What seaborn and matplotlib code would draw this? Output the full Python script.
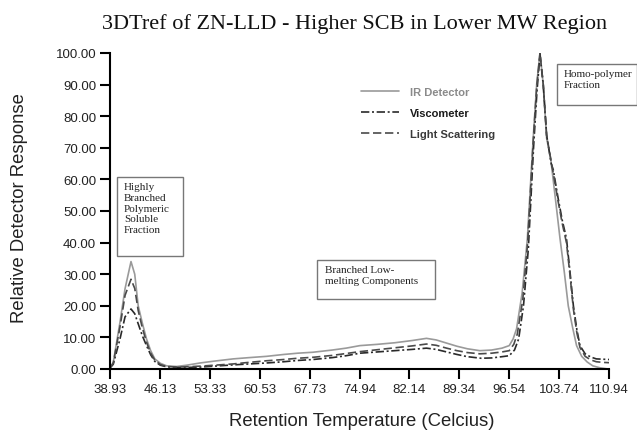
import matplotlib
matplotlib.use("Agg")
import matplotlib.pyplot as plt
import seaborn as sns
import pandas as pd
from matplotlib.patches import Rectangle

# ---- data ----
ir_x = [38.93, 39.4, 40.37, 41.1, 41.96, 42.5, 43.0, 43.6, 44.2, 44.8, 45.4, 46.2, 47.1, 48.55, 50.0,
        51.9, 54.0, 56.7, 59.0, 61.5, 64.0, 66.0, 68.2, 71.0, 73.0, 75.0, 77.5, 80.0, 82.5, 84.6,
        86.0, 87.5, 89.0, 90.5, 92.3, 94.0, 95.5, 96.54, 97.1, 97.6, 98.4, 99.15, 100.0, 100.5,
        100.98, 101.45, 101.94, 102.52, 103.2, 103.87, 104.5, 105.06, 105.7, 106.26, 107.0, 107.8,
        108.6, 109.6, 110.8]
ir_y = [0.5, 2.1, 14.8, 25.4, 34.0, 30.0, 20.0, 14.5, 9.5, 5.8, 3.2, 1.8, 1.0, 0.8, 1.2,
        1.9, 2.5, 3.2, 3.6, 4.0, 4.6, 5.0, 5.3, 6.0, 6.6, 7.4, 7.8, 8.3, 9.0, 9.7,
        9.2, 8.2, 7.2, 6.4, 5.8, 6.0, 6.6, 7.4, 9.5, 12.7, 24.0, 41.0, 73.0, 90.0,
        100.0, 90.0, 73.0, 66.7, 54.0, 41.3, 30.5, 20.0, 13.0, 7.4, 4.0, 2.2,
        1.0, 0.4, 0.0]

visc_x = [38.93, 39.4, 40.37, 41.1, 41.96, 42.5, 43.0, 43.6, 44.2, 44.8, 45.4, 46.2, 47.1, 48.55, 50.0,
          51.9, 54.0, 56.7, 59.0, 61.5, 64.0, 66.0, 68.2, 71.0, 73.0, 75.0, 77.5, 80.0, 82.5, 84.6,
          86.0, 87.5, 89.0, 90.5, 92.5, 94.0, 95.5, 96.54, 97.3, 97.9, 98.6, 99.3, 100.05, 100.55,
          100.98, 101.45, 101.94, 102.6, 102.9, 103.6, 104.2, 104.8, 105.3, 105.8, 106.3, 106.75, 107.5,
          108.3, 109.1, 110.0, 110.94]
visc_y = [0.3, 1.5, 9.5, 16.5, 19.0, 17.5, 14.3, 10.5, 7.4, 4.5, 2.4, 1.2, 0.7, 0.5, 0.5,
          0.6, 0.9, 1.3, 1.6, 1.9, 2.3, 2.7, 3.0, 3.6, 4.2, 5.0, 5.4, 5.8, 6.2, 6.6,
          6.2, 5.4, 4.6, 3.9, 3.4, 3.5, 3.9, 4.2, 6.0, 9.5, 20.0, 38.0, 70.0, 88.0,
          99.5, 90.0, 74.0, 65.0, 63.0, 54.0, 47.0, 41.3, 31.0, 20.0, 12.5, 7.4, 4.8,
          3.8, 3.2, 3.1, 3.0]

ls_x = [38.93, 39.4, 40.37, 41.1, 41.96, 42.5, 43.0, 43.6, 44.2, 44.8, 45.4, 46.2, 47.1, 48.55, 50.0,
        51.9, 54.0, 56.7, 59.0, 61.5, 64.0, 66.0, 68.2, 71.0, 73.0, 75.0, 77.5, 80.0, 82.5, 84.6,
        86.0, 87.5, 89.0, 90.5, 92.3, 94.0, 95.5, 96.54, 97.2, 97.7, 98.5, 99.2, 100.0, 100.5,
        100.98, 101.45, 101.94, 102.6, 102.9, 103.6, 104.2, 104.8, 105.3, 105.8, 106.3, 106.75, 107.5,
        108.3, 109.1, 110.0, 110.94]
ls_y = [0.4, 1.8, 13.3, 23.3, 28.4, 25.5, 18.5, 13.0, 8.5, 5.0, 2.8, 1.4, 0.8, 0.6, 0.7,
        0.9, 1.2, 1.6, 2.1, 2.6, 3.0, 3.4, 3.7, 4.3, 4.9, 5.5, 6.1, 6.7, 7.3, 7.9,
        7.5, 6.6, 5.8, 5.2, 4.8, 5.0, 5.4, 5.8, 7.8, 11.0, 22.0, 40.0, 72.0, 89.0,
        100.0, 90.0, 74.0, 65.5, 62.0, 53.0, 46.0, 40.0, 30.0, 19.0, 11.5, 6.8, 4.0,
        2.9, 2.3, 2.1, 2.0]

series_names = ["IR Detector", "Viscometer", "Light Scattering"]
x_ticks = [38.93, 46.13, 53.33, 60.53, 67.73, 74.94, 82.14, 89.34, 96.54, 103.74, 110.94]
y_ticks = [0, 10, 20, 30, 40, 50, 60, 70, 80, 90, 100]

df = pd.concat([
    pd.DataFrame({"x": ir_x, "y": ir_y, "series": series_names[0]}),
    pd.DataFrame({"x": visc_x, "y": visc_y, "series": series_names[1]}),
    pd.DataFrame({"x": ls_x, "y": ls_y, "series": series_names[2]}),
])

sns.set_theme(style="white")
plt.rcParams["font.family"] = ["Liberation Sans", "DejaVu Sans"]

fig = plt.figure(figsize=(6.37, 4.31), dpi=100)
ax = fig.add_axes([110/637, 61/431, 499/637, 316/431])

palette = {"IR Detector": "#9a9a9a", "Viscometer": "#2a2a2a", "Light Scattering": "#4a4a4a"}
dashes = {"IR Detector": "", "Viscometer": (5, 1.6, 1.2, 1.6), "Light Scattering": (5, 2.2)}
sns.lineplot(data=df, x="x", y="y", hue="series", style="series", palette=palette,
             dashes=dashes, linewidth=1.2, ax=ax, legend=True, estimator=None, sort=False)

ax.set_xlim(38.93, 110.94)
ax.set_ylim(0, 100)
ax.set_xticks(x_ticks)
ax.set_xticklabels([f"{v:.2f}" for v in x_ticks], fontsize=9.5, color="#222222")
ax.set_yticks(y_ticks)
ax.set_yticklabels([f"{v:.2f}" for v in y_ticks], fontsize=9.5, color="#222222")
ax.tick_params(axis="both", direction="out", length=7, width=1.5, color="black", pad=3,
               bottom=True, left=True)
sns.despine(ax=ax)
for s in ["left", "bottom"]:
    ax.spines[s].set_color("black")
    ax.spines[s].set_linewidth(1.5)

ax.set_xlabel("Retention Temperature (Celcius)", fontsize=13.3, color="#222222", va="center")
ax.set_ylabel("Relative Detector Response", fontsize=13.3, color="#222222", va="center")
ax.xaxis.set_label_coords((362 - 110) / 499, (370 - 422) / 316)
ax.yaxis.set_label_coords((20 - 110) / 499, (370 - 208) / 316)
fig.text(355/637, 1 - 24/431, "3DTref of ZN-LLD - Higher SCB in Lower MW Region",
         ha="center", va="center", fontsize=16, family="Liberation Serif", color="#111111")

handles, labels = ax.get_legend_handles_labels()
leg = ax.legend(handles, labels, loc="upper left", bbox_to_anchor=(351/637, 1 - 78/431),
                bbox_transform=fig.transFigure, frameon=False, handlelength=3.4,
                labelspacing=1.0, handletextpad=1.0,
                prop={"weight": "bold", "size": 8, "family": "Liberation Sans"})
for t, c in zip(leg.get_texts(), ["#8a8a8a", "#1a1a1a", "#3a3a3a"]):
    t.set_color(c)

# annotation boxes (figure pixel coordinates)
boxes = [
    ((117, 178, 66, 79), "Highly\nBranched\nPolymeric\nSoluble\nFraction", (124, 183)),
    ((317, 261, 118, 39), "Branched Low-\nmelting Components", (325, 266)),
    ((557, 65, 80, 41), "Homo-polymer\nFraction", (564, 70)),
]
for (bx, by, bw, bh), txt, (tx, ty) in boxes:
    fig.patches.append(Rectangle((bx/637, 1 - (by + bh)/431), bw/637, bh/431,
                                 transform=fig.transFigure, fill=False,
                                 edgecolor="#777777", linewidth=1.0))
    fig.text(tx/637, 1 - ty/431, txt, ha="left", va="top", fontsize=8,
             family="Liberation Serif", color="#222222", linespacing=1.25)

fig.savefig("out.png", dpi=100)
